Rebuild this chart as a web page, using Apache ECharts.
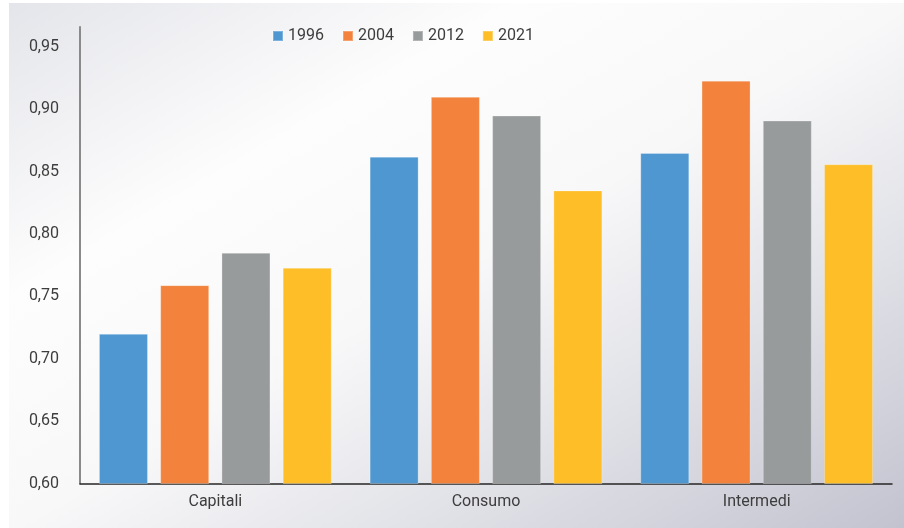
<!DOCTYPE html>
<html>
<head>
<meta charset="utf-8">
<script src="https://cdn.jsdelivr.net/npm/echarts@6/dist/echarts.min.js"></script>
<style>
  html, body { margin: 0; padding: 0; background: #ffffff; }
  #chart { width: 904px; height: 528px; }
</style>
</head>
<body>
<div id="chart"></div>
<script>
// Categories of goods and the share values for each survey year
const categories = ['Capitali', 'Consumo', 'Intermedi'];
const years = ['1996', '2004', '2012', '2021'];
const values1996 = [0.720, 0.862, 0.865];
const values2004 = [0.759, 0.910, 0.923];
const values2012 = [0.785, 0.895, 0.891];
const values2021 = [0.773, 0.835, 0.856];
const yTicks = [0.60, 0.65, 0.70, 0.75, 0.80, 0.85, 0.90, 0.95];

const seriesValues = [values1996, values2004, values2012, values2021];
const colors = ['#4f97d1', '#f2823c', '#989b9b', '#fdbe28'];
const textColor = '#3d3d3d';
const font = 'Roboto, "Noto Sans", sans-serif';

const chart = echarts.init(document.getElementById('chart'), null, { renderer: 'canvas' });

const option = {
  backgroundColor: '#ffffff',
  animation: false,
  textStyle: { fontFamily: font },
  graphic: [{
    type: 'rect',
    z: -100,
    silent: true,
    shape: { x: 9, y: 3, width: 895, height: 525 },
    style: {
      fill: {
        type: 'linear', x: 0, y: 0, x2: 0.514, y2: 1.5,
        colorStops: [
          { offset: 0, color: '#e4e5ea' },
          { offset: 0.28, color: '#fdfdfd' },
          { offset: 0.5, color: '#f8f8f9' },
          { offset: 0.75, color: '#dedfe5' },
          { offset: 1, color: '#c1c2ce' }
        ]
      }
    }
  }],
  legend: {
    left: 267,
    top: 23,
    icon: 'rect',
    itemWidth: 10,
    itemHeight: 10,
    itemGap: 18,
    textStyle: { color: textColor, fontSize: 16, fontFamily: font },
    data: years
  },
  grid: {
    left: 80,
    right: 12,
    top: 27,
    bottom: 44.5,
    containLabel: false
  },
  xAxis: {
    type: 'category',
    data: categories,
    axisLine: { show: true, lineStyle: { color: '#262626', width: 1.5 } },
    axisTick: { show: false },
    axisLabel: { color: textColor, fontSize: 16, margin: 10, fontFamily: font },
    splitLine: { show: false }
  },
  yAxis: {
    type: 'value',
    min: yTicks[0],
    max: 0.966,
    interval: 0.05,
    axisLine: { show: true, lineStyle: { color: '#8a8a8a', width: 2 } },
    axisTick: { show: false },
    splitLine: { show: false },
    axisLabel: {
      color: textColor,
      fontSize: 16,
      margin: 21,
      fontFamily: font,
      showMaxLabel: false,
      formatter: v => v.toFixed(2).replace('.', ',')
    }
  },
  series: years.map((y, i) => ({
    name: y,
    type: 'bar',
    data: seriesValues[i],
    barWidth: 49,
    barGap: '25%',
    itemStyle: {
      color: colors[i],
      borderColor: 'rgba(255,255,255,0.25)',
      borderWidth: 1
    }
  }))
};

chart.setOption(option);
</script>
</body>
</html>
